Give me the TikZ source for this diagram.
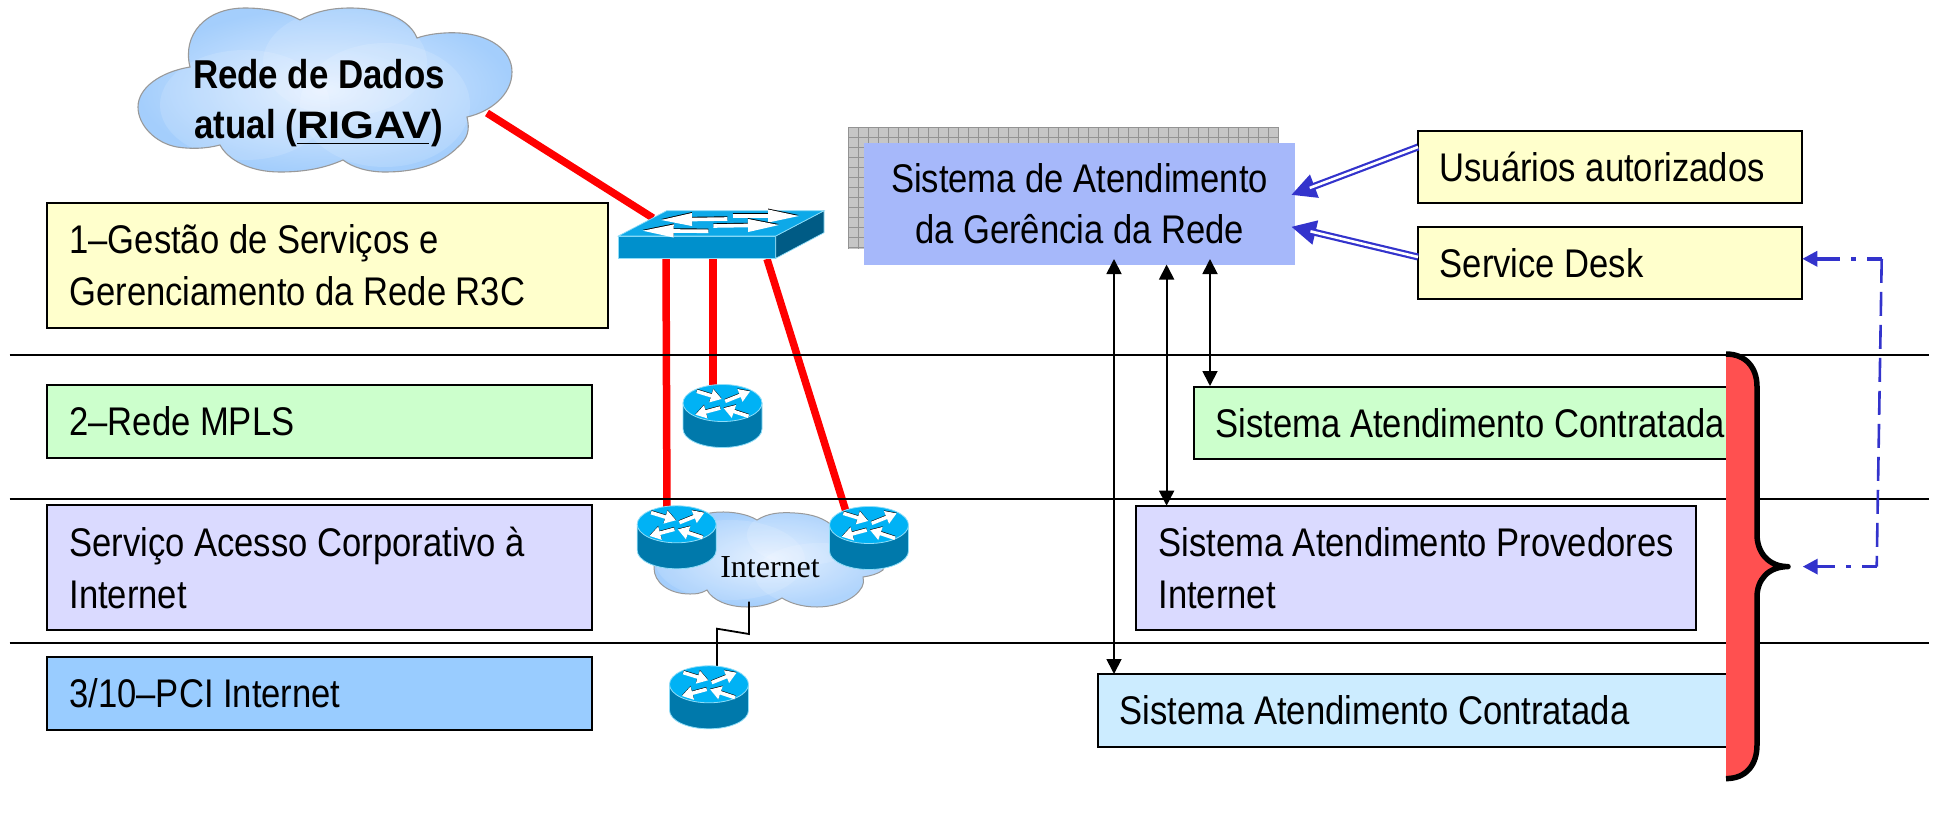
\documentclass[tikz,border=0pt]{standalone}
\usepackage{fontspec}
\setmainfont[FakeStretch=0.865]{Liberation Sans}
\newfontfamily\serifface{Liberation Serif}
\usetikzlibrary{arrows.meta}
\definecolor{ylw}{HTML}{FFFFCC}
\definecolor{grn}{HTML}{CCFFCC}
\definecolor{lil}{HTML}{DADAFF}
\definecolor{blu}{HTML}{99CCFF}
\definecolor{sky}{HTML}{CCECFF}
\definecolor{sysc}{HTML}{A6B8FA}
\definecolor{arrowblue}{HTML}{3333CC}
\definecolor{redbrace}{HTML}{FF5050}
\definecolor{rtop}{HTML}{00B2F5}
\definecolor{rbody}{HTML}{0079AB}
\definecolor{redge}{HTML}{8FDDF8}
\definecolor{swtop}{HTML}{0DA9E8}
\definecolor{swfront}{HTML}{0090CC}
\definecolor{swside}{HTML}{005B85}
\definecolor{cloudout}{HTML}{A4CEFC}
\definecolor{cloudin}{HTML}{E2EFFF}
\newcommand\boxfont{\fontsize{40}{52}\selectfont}
\newcommand\boldfont{\fontsize{40.3}{50}\selectfont\bfseries}
\newcommand\mainpath{(138,107) .. controls (138,88) and (160,72) .. (190,67)
  .. controls (182,35) and (205,8) .. (245,8) .. controls (268,8) and (288,13) .. (300,20)
  .. controls (312,13) and (328,8) .. (350,8) .. controls (385,8) and (410,20) .. (417,38)
  .. controls (428,34) and (445,32) .. (460,33) .. controls (490,35) and (512,50) .. (512,72)
  .. controls (512,95) and (490,112) .. (467,117) .. controls (470,130) and (468,138) .. (458,147)
  .. controls (440,165) and (415,172) .. (385,172) .. controls (367,172) and (352,167) .. (343,160)
  .. controls (325,168) and (305,172) .. (280,172) .. controls (250,172) and (228,160) .. (220,145)
  .. controls (205,149) and (190,149) .. (177,147) .. controls (155,143) and (138,125) .. (138,107) -- cycle}
\newcommand\netpath{(654,568) .. controls (654,545) and (675,520) .. (710,513)
  .. controls (728,510) and (748,514) .. (757,520) .. controls (768,513) and (780,512) .. (795,513)
  .. controls (812,514) and (825,518) .. (835,528) .. controls (870,535) and (885,552) .. (883,570)
  .. controls (878,574) and (870,576) .. (863,577) .. controls (864,582) and (863,585) .. (862,587)
  .. controls (855,600) and (835,607) .. (817,607) .. controls (802,607) and (790,603) .. (782,598)
  .. controls (772,604) and (760,607) .. (747,607) .. controls (728,607) and (712,600) .. (707,590)
  .. controls (700,594) and (695,594) .. (690,594) .. controls (668,594) and (654,582) .. (654,568) -- cycle}
\tikzset{
  labelbox/.style={draw=black,line width=2pt,anchor=north west,inner xsep=22pt,inner ysep=0pt,outer sep=0pt,align=flush left,font=\boxfont},
  redlink/.style={red,line width=7.5pt},
  layerline/.style={black,line width=2pt},
  blackarrow/.style={black,line width=1.8pt,{Triangle[length=15pt,width=15pt]}-{Triangle[length=15pt,width=15pt]}},
  bluehead/.style={arrowblue,line width=7pt,-{Triangle[length=25pt,width=23pt]}},
  bluecore/.style={white,line width=2.6pt,shorten >=20pt},
  dashblue/.style={arrowblue,line width=3.4pt,dash pattern=on 15pt off 11pt on 5pt off 11pt on 16pt off 0pt,-{Triangle[length=15pt,width=15pt]}},
  dashblueV/.style={arrowblue,line width=2.6pt,dash pattern=on 24pt off 9pt},
  devicepoint/.style={inner sep=0pt,minimum size=0pt},
  rarrow/.style={white,line width=3.6pt,-{Triangle[length=11pt,width=13pt]}},
  rarrowb/.style={black,line width=3.6pt,-{Triangle[length=11pt,width=13pt]}},
  swarrow/.style={white,line width=3.6pt,-{Triangle[length=32pt,width=12pt]}},
  swarrowb/.style={black,line width=3.6pt,-{Triangle[length=32pt,width=12pt]}},
  pics/routerpic/.style={code={
    \fill[rbody,draw=redge,line width=.8pt] (-39.5,0) -- (-39.5,26)
      arc[start angle=180,end angle=360,x radius=39.5pt,y radius=18.5pt] -- (39.5,0) -- cycle;
    \fill[rtop,draw=redge,line width=.8pt] (0,0) ellipse [x radius=39.5pt,y radius=18.5pt];
    \foreach \xa/\ya/\xb/\yb in {-25.7/-11.7/-0.7/-4, 2.7/-1.7/27.7/-11.7, -2.3/5/-27.3/11.7, 26/13.3/1/5}{
      \draw[rarrowb] (\xa,\ya-.6) -- (\xb,\yb-.6);
      \draw[rarrow] (\xa,\ya) -- (\xb,\yb);
    }
  }}
}
\begin{document}
\begin{tikzpicture}[x=1pt,y=-1pt]
\useasboundingbox (0,0) rectangle (1939,836);
\fill[white] (0,0) rectangle (1939,836);

% data cloud
\shade[inner color=cloudin,outer color=cloudout] \mainpath;
\begin{scope}
  \clip \mainpath;
  \fill[white,opacity=.13] (345,62) ellipse [x radius=82pt,y radius=54pt];
  \fill[white,opacity=.13] (245,105) ellipse [x radius=85pt,y radius=55pt];
  \fill[white,opacity=.13] (385,105) ellipse [x radius=85pt,y radius=62pt];
\end{scope}
\draw[gray!80,line width=1.1pt] \mainpath;
\node[font=\boldfont,align=center,inner sep=0pt] (rigav) at (319,103)
  {Rede de Dados\\atual (\rlap{\rule[-6pt]{132pt}{1.8pt}}\scalebox{1.25}[.95]{RIGAV})};

% internet cloud
\shade[inner color=cloudin,outer color=cloudout] \netpath;
\begin{scope}
  \clip \netpath;
  \fill[white,opacity=.13] (730,560) ellipse [x radius=75pt,y radius=40pt];
  \fill[white,opacity=.13] (805,535) ellipse [x radius=58pt,y radius=30pt];
  \fill[white,opacity=.13] (820,575) ellipse [x radius=65pt,y radius=32pt];
\end{scope}
\draw[gray!80,line width=1pt] \netpath;
\node[font=\serifface\fontsize{32}{36}\selectfont,anchor=base,inner sep=0pt] (nettext) at (770,577) {Internet};

% left boxes
\node[labelbox,fill=ylw,text width=517pt,minimum height=125.3pt] (b1) at (47.4,202.7) {1–Gestão de Serviços e\\Gerenciamento da Rede R3C};
\node[labelbox,fill=grn,text width=501pt,minimum height=73.3pt] (b2) at (47.4,384.7) {2–Rede MPLS};
\node[labelbox,fill=lil,text width=501pt,minimum height=125pt] (b3) at (47.4,505) {Serviço Acesso Corporativo à\\Internet};
\node[labelbox,fill=blu,text width=501pt,minimum height=73.3pt] (b4) at (47.4,656.7) {3/10–PCI Internet};

% right boxes
\node[labelbox,fill=grn,text width=512pt,minimum height=72.3pt] (c1) at (1193.6,386.7) {\mbox{Sistema Atendimento Contratada}};
\node[labelbox,fill=lil,text width=516pt,minimum height=124.3pt] (c2) at (1136.4,505.7) {\mbox{Sistema Atendimento Provedores}\\Internet};
\node[labelbox,fill=sky,text width=588pt,minimum height=72.7pt] (c3) at (1097.7,674.3) {Sistema Atendimento Contratada};
\node[labelbox,fill=ylw,text width=340.6pt,minimum height=72.6pt] (us) at (1417.7,130.7) {Usuários autorizados};
\node[labelbox,fill=ylw,text width=340.6pt,minimum height=72.6pt] (sd) at (1417.7,226.7) {Service Desk};

% system box with grid backdrop
\fill[gray!45] (848.2,127.3) rectangle (1278.8,249.3);
\foreach \gx in {848,858,...,1278} \draw[gray!85,line width=.7pt] (\gx,127.3) -- (\gx,249.3);
\foreach \gy in {127,137,...,249} \draw[gray!85,line width=.7pt] (848.2,\gy) -- (1278.8,\gy);
\node[fill=sysc,anchor=north west,minimum width=431pt,minimum height=122.3pt,inner sep=0pt,outer sep=0pt,inner ysep=0pt,align=center,font=\boxfont] (sys) at (864,142.7)
  {\raisebox{-1.5pt}{Sistema de Atendimento}\\da Gerência da Rede};

% named link ends
\coordinate (cloudOut) at (487,113);
\coordinate (swIn) at (653,218);
\coordinate (swA) at (666,259);
\coordinate (swB) at (713,259);
\coordinate (swC) at (767,259);
\coordinate (rLeftIn) at (667,515);
\coordinate (rMplsIn) at (713,395);
\coordinate (rRightIn) at (848,518);
\draw[redlink] (cloudOut) -- (swIn);
\draw[redlink] (swA) -- (rLeftIn);
\draw[redlink] (swB) -- (rMplsIn);
\draw[redlink] (swC) -- (rRightIn);

% layer lines
\coordinate (l1a) at (9.5,354.7); \coordinate (l1b) at (1929,354.7);
\coordinate (l2a) at (9.5,498.7); \coordinate (l2b) at (1929,498.7);
\coordinate (l3a) at (9.5,642.7); \coordinate (l3b) at (1929,642.7);
\draw[layerline] (l1a) -- (l1b);
\draw[layerline] (l2a) -- (l2b);
\draw[layerline] (l3a) -- (l3b);

% switch
\node[devicepoint] (switch) at (697,235) {};
\fill[swfront,draw=redge,line width=.7pt] (618.3,236) rectangle (775.7,258.3);
\fill[swside,draw=redge,line width=.7pt] (775.7,236) -- (824,210.7) -- (824,232.7) -- (775.7,258.3) -- cycle;
\fill[swtop,draw=redge,line width=.7pt] (618.3,236) -- (666.7,210.7) -- (824,210.7) -- (775.7,236) -- cycle;
\foreach \xa/\ya/\xb/\yb in {727.3/219/660/220, 732.7/216/800/216, 708.3/231.3/641.7/230.7, 713.3/226/780/225}{
  \draw[swarrowb] (\xa,\ya-.9) -- (\xb,\yb-.9);
  \draw[swarrow] (\xa,\ya) -- (\xb,\yb);
}

% zigzag
\coordinate (zz0) at (749,601.7);
\coordinate (zz1) at (749,634);
\coordinate (zz2) at (717,628.7);
\coordinate (zz3) at (717,666);
\draw[black,line width=1.8pt] (zz0) -- (zz1) -- (zz2) -- (zz3);

% routers
\node[devicepoint] (rMpls) at (722.5,403) {};
\node[devicepoint] (rLeft) at (676.7,524.3) {};
\node[devicepoint] (rRight) at (869,525) {};
\node[devicepoint] (rBottom) at (709,684.3) {};
\pic at (rMpls) {routerpic};
\pic at (rLeft) {routerpic};
\pic at (rRight) {routerpic};
\pic at (rBottom) {routerpic};

% black arrows
\coordinate (sysA) at (1114,259); \coordinate (c3In) at (1114,674);
\coordinate (sysB) at (1166.6,264.5); \coordinate (c2In) at (1166.6,505.7);
\coordinate (sysC) at (1210,259); \coordinate (c1In) at (1210,386);
\draw[blackarrow] (sysA) -- (c3In);
\draw[blackarrow] (sysB) -- (c2In);
\draw[blackarrow] (sysC) -- (c1In);

% double blue arrows
\coordinate (usOut) at (1418,147); \coordinate (sysInU) at (1291,195);
\coordinate (sdOut) at (1418,257); \coordinate (sysInS) at (1291,226.7);
\draw[bluehead] (usOut) -- (sysInU);
\draw[bluecore] (usOut) -- (sysInU);
\draw[bluehead] (sdOut) -- (sysInS);
\draw[bluecore] (sdOut) -- (sysInS);

% brace
\fill[redbrace] (1726,354) .. controls (1746,354) and (1757,368) .. (1757,386.5) -- (1757,534.5)
  .. controls (1757,552) and (1768,566.6) .. (1788,566.6) .. controls (1768,566.6) and (1757,580) .. (1757,597)
  -- (1757,745) .. controls (1757,765) and (1746,778.6) .. (1726,778.6) -- cycle;
\draw[black,line width=5.5pt,line join=round] (1726,354) .. controls (1746,354) and (1757,368) .. (1757,386.5) -- (1757,534.5)
  .. controls (1757,552) and (1768,566.6) .. (1788,566.6) .. controls (1768,566.6) and (1757,580) .. (1757,597)
  -- (1757,745) .. controls (1757,765) and (1746,778.6) .. (1726,778.6);

% dash-dot link
\coordinate (corner1) at (1881.7,258.8);
\coordinate (corner2) at (1876.7,566.6);
\coordinate (braceTip) at (1802.7,566.6);
\draw[dashblue] (corner1) -- (sd.east |- corner1);
\draw[dashblueV] (corner1) -- (corner2);
\draw[dashblue] (corner2) -- (braceTip);
\end{tikzpicture}
\end{document}
